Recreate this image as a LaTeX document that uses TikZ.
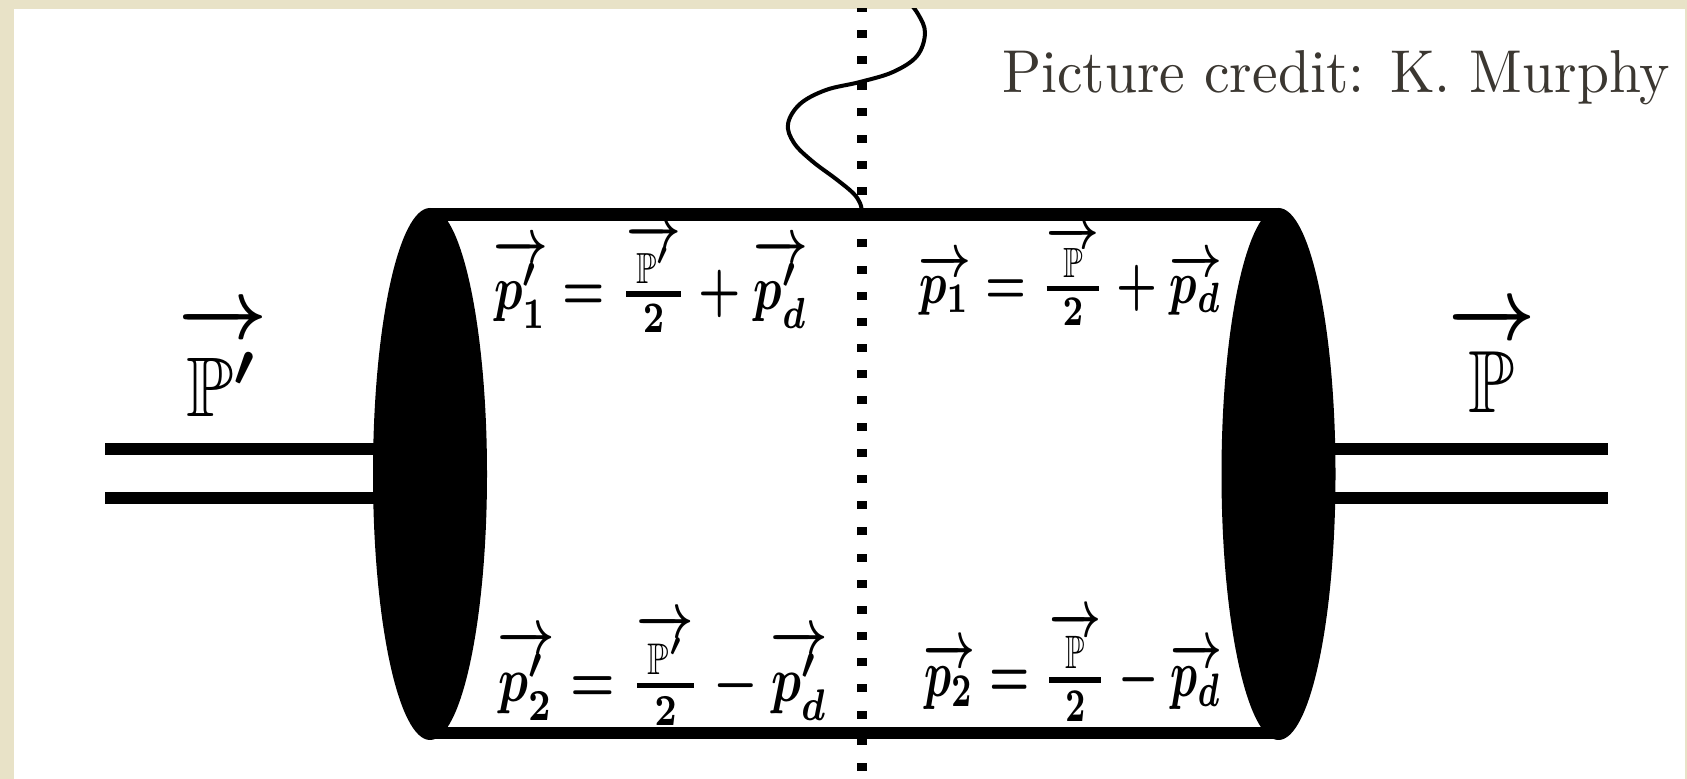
\documentclass[tikz,border=0pt]{standalone}
\usepackage{amsmath,amssymb,graphicx}
\usetikzlibrary{shapes.geometric}
\definecolor{paper}{RGB}{232,226,199}
\definecolor{ink}{RGB}{59,55,49}
\newcommand\vecp[1]{\overrightarrow{#1}}
\newcommand\halfP[1]{\genfrac{}{}{0.9pt}{}{\textstyle\overrightarrow{\scriptstyle#1}}{2}}
\begin{document}
\begin{tikzpicture}[x=0.5pt,y=-0.5pt,
  blob/.style={ellipse, fill=black, draw=none, inner sep=0pt, outer sep=0pt, minimum width=57pt, minimum height=266pt},
  rim/.style={line width=6.25pt},
  rail/.style={line width=6pt},
  cut/.style={line width=5pt, dash pattern=on 4pt off 9.09pt},
  wave/.style={line width=2pt, line cap=round},
  lbl/.style={inner sep=0pt, outer sep=0pt, anchor=north west}]
\useasboundingbox (0,0) rectangle (1687,779);
\fill[paper] (0,0) rectangle (1687,779);
\fill[white] (14,9) rectangle (1685,779);
% end blobs and double lines
\node[blob] (eL) at (430,474) {};
\node[blob] (eR) at (1278.5,474) {};
\coordinate (lt) at (105,449); \coordinate (lb) at (105,498);
\coordinate (rt) at (1608,449); \coordinate (rb) at (1608,498);
\draw[rail] (lt) -- (lt -| eL.center);
\draw[rail] (lb) -- (lb -| eL.center);
\draw[rail] (rt -| eR.center) -- (rt);
\draw[rail] (rb -| eR.center) -- (rb);
% cylinder
\draw[rim] ([yshift=-3.25pt]eL.north) -- ([yshift=-3.25pt]eR.north);
\draw[rim] ([yshift=3.5pt]eL.south) -- ([yshift=3.5pt]eR.south);
% cut and photon
\coordinate (cutB) at (862,771);
\coordinate (cutT) at (862,-5);
\begin{scope}
\clip (14,9) rectangle (1685,779);
\draw[cut] (cutB) -- (cutT);
\draw[wave] plot[smooth, tension=0.6] coordinates {(904,-4) (918,14) (925,33) (917,56) (893,72) (860,82) (826,90) (800,104) (788,124) (794,143) (812,161) (836,179) (853,193) (860,203) (862,212)};
\end{scope}
% labels
\node[inner sep=0pt, outer sep=0pt, anchor=base west, text=ink] (credit) at (1002,93) {\resizebox{334pt}{21pt}{Picture credit: K. Murphy}};
\node[lbl] (PL) at (178,305) {\resizebox*{44.5pt}{55.5pt}{\boldmath$\overrightarrow{\rule{0pt}{0.92em}\mathbb{P}'}$}};
\node[lbl] (PR) at (1448,305) {\resizebox*{43.5pt}{53.5pt}{\boldmath$\overrightarrow{\rule{0pt}{0.82em}\mathbb{P}}$}};
\node[lbl] (f1) at (493,223) {\resizebox*{157.5pt}{55pt}{\boldmath$\vecp{p'_1} = \halfP{\mathbb{P}'} + \vecp{p'_d}$}};
\node[lbl] (f2) at (918,225) {\resizebox*{152pt}{50.5pt}{\boldmath$\vecp{p_1} = \halfP{\mathbb{P}} + \vecp{p_d}$}};
\node[lbl] (f3) at (497,613) {\resizebox*{165.5pt}{56pt}{\boldmath$\vecp{p'_2} = \halfP{\mathbb{P}'} - \vecp{p'_d}$}};
\node[lbl] (f4) at (923,610) {\resizebox*{149.5pt}{56pt}{\boldmath$\vecp{p_2} = \halfP{\mathbb{P}} - \vecp{p_d}$}};
\end{tikzpicture}
\end{document}
